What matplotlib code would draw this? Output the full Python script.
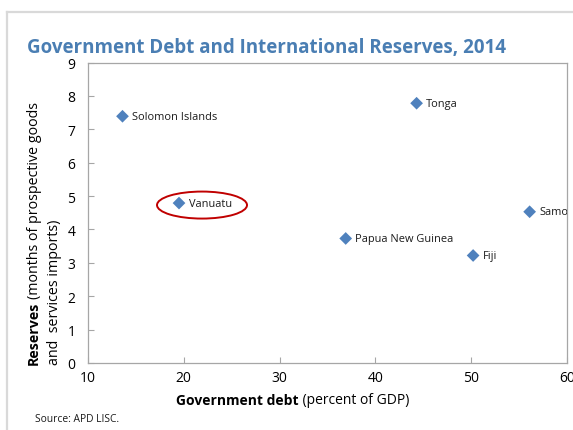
import matplotlib
matplotlib.use("Agg")
import matplotlib.pyplot as plt
from matplotlib.patches import Ellipse
from matplotlib.lines import Line2D

plt.rcParams['font.family'] = ['Open Sans', 'DejaVu Sans']

countries = ["Solomon Islands", "Vanuatu", "Tonga", "Papua New Guinea", "Fiji", "Samoa"]
debt = [13.6, 19.5, 44.3, 36.9, 50.2, 56.1]
reserves = [7.39, 4.79, 7.78, 3.73, 3.22, 4.53]
x_ticks = [10, 20, 30, 40, 50, 60]
y_ticks = [0, 1, 2, 3, 4, 5, 6, 7, 8, 9]
highlight = "Vanuatu"

W, H = 573, 431
fig = plt.figure(figsize=(W / 100, H / 100), dpi=100)
fig.patch.set_facecolor("white")

def fx(px):
    return px / W

def fy(py):
    return 1 - py / H

# light frame around the panel
fig.add_artist(Line2D([fx(7), fx(7)], [fy(13), 0], color="#d9d9d9", lw=1.6,
                      transform=fig.transFigure))
fig.add_artist(Line2D([fx(7), 1], [fy(13), fy(13)], color="#d9d9d9", lw=1.6,
                      transform=fig.transFigure))

ax = fig.add_axes([fx(88), fy(364), fx(567) - fx(88), fy(63.5) - fy(364)])
ax.set_xlim(10, 60)
ax.set_ylim(0, 9)
ax.set_xticks(x_ticks)
ax.set_yticks(y_ticks)
for s in ax.spines.values():
    s.set_color("#a6a6a6")
    s.set_linewidth(0.9)
ax.tick_params(direction="in", length=4, width=0.8, color="#a6a6a6",
               labelsize=10, labelcolor="#000000", pad=5)
ax.tick_params(axis="y", pad=9)

ax.scatter(debt, reserves, marker="D", s=42, color="#4f81bd", zorder=3,
           edgecolors="none")
for name, xv, yv in zip(countries, debt, reserves):
    ax.annotate(name, (xv, yv), xytext=(7, 0), textcoords="offset points",
                ha="left", va="center", fontsize=7.9, color="#1a1a1a",
                annotation_clip=False, clip_on=True)

# red ring around the highlighted country, drawn in pixel space
fig.canvas.draw()
hi = countries.index(highlight)
px, py = ax.transData.transform((debt[hi], reserves[hi]))
ring = Ellipse((px + 23, py - 2), width=90, height=27, fill=False,
               edgecolor="#c00000", lw=1.4, zorder=4, transform=None)
fig.add_artist(ring)

fig.canvas.draw()
renderer = fig.canvas.get_renderer()

def text_width(t):
    bb = t.get_window_extent(renderer=renderer)
    return bb.width

# title
fig.text(fx(27), fy(52.5), "Government Debt and International Reserves, 2014",
         fontsize=13.5, fontweight="bold", color="#4a7eb3", ha="left",
         va="baseline")

# x axis label: bold part + regular part, centred together
xb = fig.text(0, fy(401), "Government debt", fontsize=10, fontweight="bold",
              ha="left", va="center")
xr = fig.text(0, fy(401), " (percent of GDP)", fontsize=10, ha="left",
              va="center")
wb = text_width(xb)
wr = text_width(xr)
start = 292.5 - (wb + wr) / 2
xb.set_x(fx(start))
xr.set_x(fx(start + wb))

# y axis label: two rotated lines
yb = fig.text(fx(34), fy(365), "Reserves", fontsize=10.3, fontweight="bold",
              rotation=90, rotation_mode="anchor", ha="left", va="center")
fig.canvas.draw()
bb = yb.get_window_extent(renderer=renderer)
fig.text(fx(34), (bb.y1 + 3) / H, "(months of prospective goods", fontsize=10.3,
         rotation=90, rotation_mode="anchor", ha="left", va="center")
fig.text(fx(55), fy(365), "and  services imports)", fontsize=10.3,
         rotation=90, rotation_mode="anchor", ha="left", va="center")

# source note
fig.text(fx(35), fy(420), "Source: APD LISC.", fontsize=7.4, ha="left",
         va="center", color="#1a1a1a")

fig.savefig("out.png", dpi=100)
